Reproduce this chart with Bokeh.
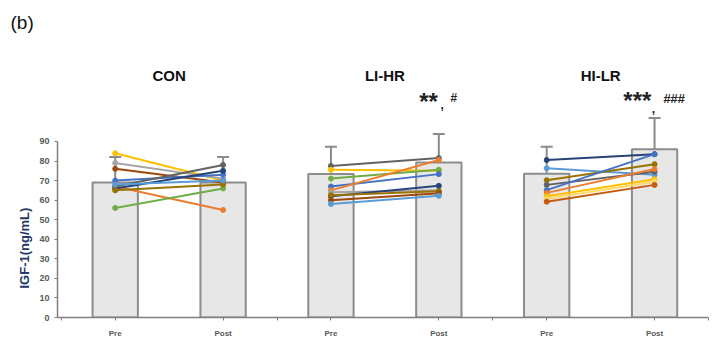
from bokeh.plotting import figure
from bokeh.models import Range1d, FixedTicker, Label, Whisker, ColumnDataSource, TeeHead, Title
from bokeh.embed import file_html
from bokeh.resources import INLINE

# ---------------- data ----------------
groups = ["CON", "LI-HR", "HI-LR"]
times = ["Pre", "Post"]
bar_mean = [69.0, 69.0, 73.3, 79.3, 73.5, 86.0]
bar_upper = [82.0, 82.0, 87.3, 93.8, 87.3, 102.0]

con_pre = [84.0, 79.0, 76.0, 67.0, 56.0, 70.0, 66.0, 67.0, 65.0, 68.0]
con_post = [70.0, 71.0, 69.0, 55.0, 66.0, 73.0, 75.0, 78.0, 68.0, 70.0]
con_colors = ["#FFC000", "#A5A5A5", "#9E480E", "#ED7D31", "#70AD47",
              "#4472C4", "#264478", "#636363", "#997300", "#5B9BD5"]

lihr_pre = [77.5, 75.5, 71.0, 67.0, 65.0, 64.0, 62.0, 62.5, 60.0, 58.0]
lihr_post = [81.5, 75.0, 75.5, 73.3, 80.5, 65.0, 67.3, 64.5, 63.5, 62.2]
lihr_colors = ["#636363", "#FFC000", "#70AD47", "#4472C4", "#ED7D31",
               "#A5A5A5", "#264478", "#997300", "#9E480E", "#5B9BD5"]

hilr_pre = [80.5, 76.3, 70.2, 67.8, 65.1, 63.7, 62.0, 60.7, 59.2]
hilr_post = [83.5, 73.0, 78.4, 74.5, 83.5, 75.9, 70.7, 69.4, 67.8]
hilr_colors = ["#264478", "#5B9BD5", "#997300", "#636363", "#4472C4",
               "#ED7D31", "#FFC000", "#FFD966", "#C55A11"]

sig_text = ["**", ",", "#", "***", ",", "###"]
sig_x = [3.405, 3.53, 3.637, 5.34, 5.49, 5.68]
sig_y = [110.5, 108.9, 112.0, 111.0, 106.9, 112.0]
sig_size = ["24px", "12px", "12px", "24px", "12px", "13px"]
sig_style = ["bold", "bold", "bold italic", "bold", "bold", "bold italic"]

# ---------------- figure ----------------
p = figure(width=715, height=359, output_backend="svg", toolbar_location=None,
           x_range=Range1d(-0.035, 6.0), y_range=Range1d(0, 145.7),
           min_border_left=57, min_border_right=7, min_border_top=32, min_border_bottom=42)
p.outline_line_color = None
p.grid.visible = False
p.background_fill_color = "white"

p.title.text = "(b)"
p.title.text_font = "Liberation Sans"
p.title.text_font_size = "19px"
p.title.text_font_style = "normal"
p.title.text_color = "#111111"
p.title.align = "left"
p.title.offset = -47
p.title.standoff = 0

ylab = Title(text="IGF-1(ng/mL)", align="left", offset=29, text_font="Liberation Sans",
             text_font_size="13px", text_font_style="bold", text_color="#1F3864", standoff=10)
p.add_layout(ylab, "left")

slots = [i + 0.5 for i in range(6)]

# bars
p.vbar(x=slots, top=bar_mean, bottom=0, width=0.42, fill_color="#E7E7E7",
       line_color="#8C8C8C", line_width=2)

# error bars (upper only)
src = ColumnDataSource(dict(x=slots, lo=bar_mean, hi=bar_upper))
wh = Whisker(base="x", lower="lo", upper="hi", source=src, line_color="#8C8C8C", line_width=2,
             upper_head=TeeHead(size=12, line_color="#8C8C8C", line_width=2), lower_head=None)
p.add_layout(wh)

# individual lines
for gi, (pre, post, cols) in enumerate([(con_pre, con_post, con_colors),
                                        (lihr_pre, lihr_post, lihr_colors),
                                        (hilr_pre, hilr_post, hilr_colors)]):
    x0 = slots[2 * gi]
    x1 = slots[2 * gi + 1]
    for a, b, c in zip(pre, post, cols):
        p.line([x0, x1], [a, b], line_color=c, line_width=2)
        p.scatter([x0, x1], [a, b], size=5, fill_color=c, line_color=c)

# group titles
for gi, g in enumerate(groups):
    p.add_layout(Label(x=2 * gi + 1.0, y=123.7, text=g, text_align="center",
                       text_baseline="middle", text_font="Liberation Sans",
                       text_font_style="bold", text_font_size="15px", text_color="#111111"))

# significance marks
for t, xx, yy, fs, st in zip(sig_text, sig_x, sig_y, sig_size, sig_style):
    p.add_layout(Label(x=xx, y=yy, text=t, text_align="center", text_baseline="middle",
                       text_font="Liberation Sans", text_font_style=st,
                       text_font_size=fs, text_color="#222222"))

# axes
p.yaxis.ticker = FixedTicker(ticks=list(range(0, 91, 10)), minor_ticks=[])
p.yaxis.bounds = (0, 90)
p.yaxis.major_label_text_font = "Liberation Sans"
p.yaxis.major_label_text_font_size = "9px"
p.yaxis.major_label_text_font_style = "bold"
p.yaxis.major_label_text_color = "#595959"
p.yaxis.axis_line_color = "#7F7F7F"
p.yaxis.axis_line_width = 1.5
p.yaxis.major_tick_line_color = "#7F7F7F"
p.yaxis.major_tick_out = 3
p.yaxis.major_tick_in = 0

p.xaxis.ticker = FixedTicker(ticks=slots, minor_ticks=[0, 2, 4, 6])
p.xaxis.major_label_overrides = {s: times[i % 2] for i, s in enumerate(slots)}
p.xaxis.major_label_text_font = "Liberation Sans"
p.xaxis.major_label_text_font_size = "8px"
p.xaxis.major_label_text_font_style = "bold"
p.xaxis.major_label_text_color = "#595959"
p.xaxis.axis_line_color = "#7F7F7F"
p.xaxis.axis_line_width = 1.5
p.xaxis.major_tick_line_color = "#7F7F7F"
p.xaxis.minor_tick_line_color = "#7F7F7F"
p.xaxis.major_tick_out = 3
p.xaxis.major_tick_in = 0
p.xaxis.minor_tick_out = 3
p.xaxis.minor_tick_in = 0
p.xaxis.major_label_standoff = 8

open("out.html", "w").write(file_html(p, INLINE))
